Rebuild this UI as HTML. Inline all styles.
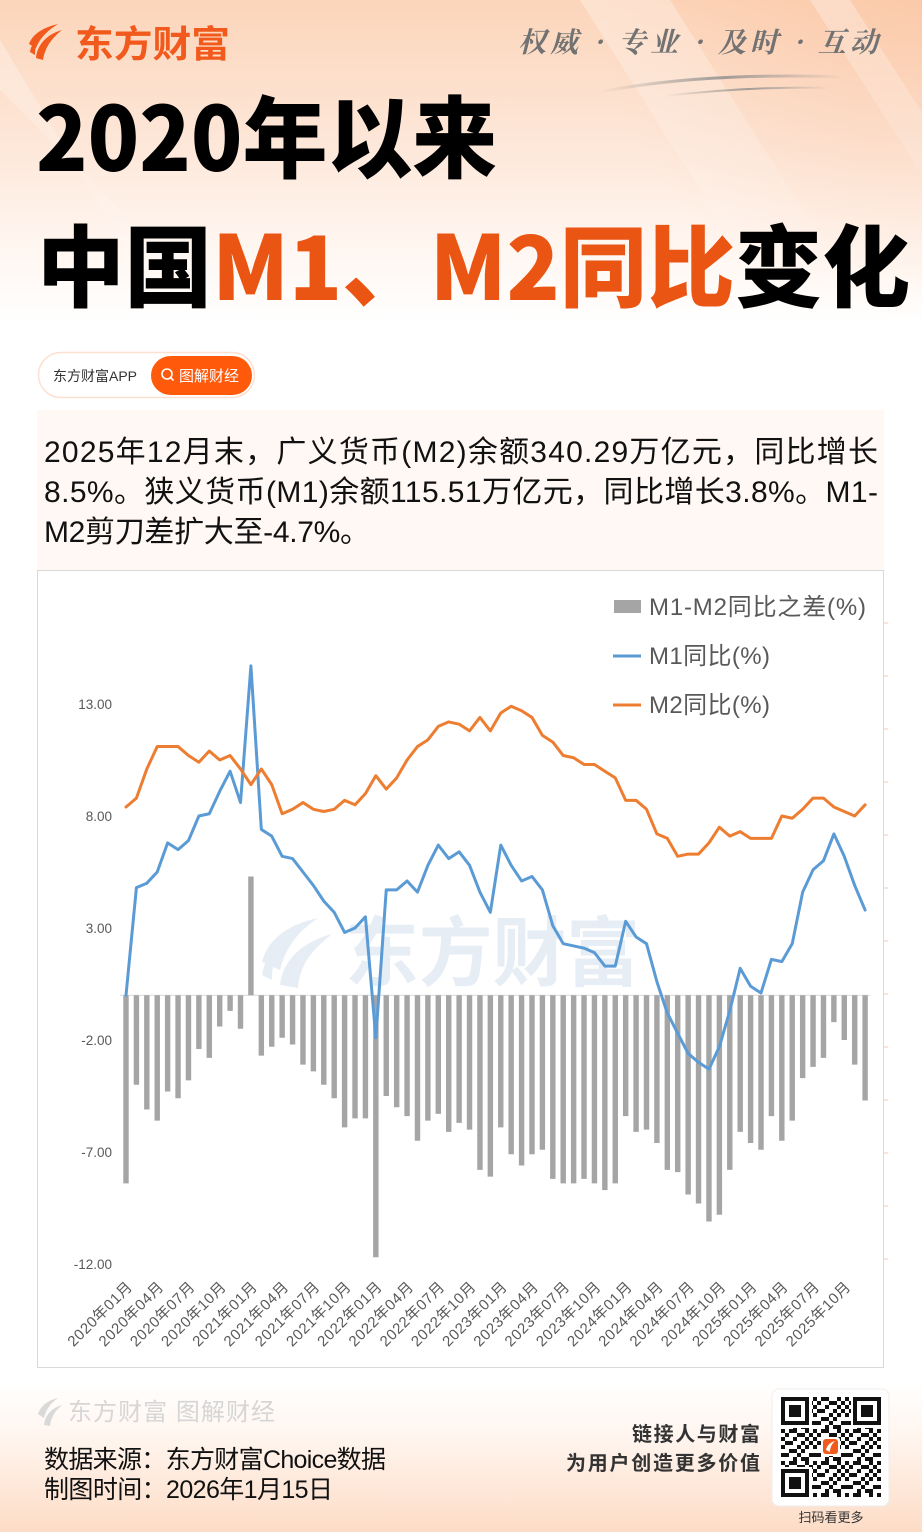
<!DOCTYPE html>
<html><head><meta charset="utf-8"><style>
html,body{margin:0;padding:0;background:#fff;}
svg{display:block;}
</style></head><body>
<svg xmlns="http://www.w3.org/2000/svg" width="922" height="1532" viewBox="0 0 922 1532">
<defs>
<linearGradient id="hdr" x1="0" y1="0" x2="0" y2="1">
<stop offset="0" stop-color="#fcd5ba"/>
<stop offset="0.4" stop-color="#fde6d7"/>
<stop offset="0.72" stop-color="#fff6f0"/>
<stop offset="0.95" stop-color="#ffffff"/>
<stop offset="1" stop-color="#ffffff"/>
</linearGradient>
<radialGradient id="hdr2" cx="922" cy="0" r="320" gradientUnits="userSpaceOnUse">
<stop offset="0" stop-color="#f9b48a" stop-opacity="0.35"/>
<stop offset="1" stop-color="#f9b48a" stop-opacity="0"/>
</radialGradient>
<linearGradient id="stripeFade" x1="0" y1="0" x2="0" y2="1">
<stop offset="0" stop-color="#ffffff" stop-opacity="0.3"/>
<stop offset="0.7" stop-color="#ffffff" stop-opacity="0.1"/>
<stop offset="1" stop-color="#ffffff" stop-opacity="0"/>
</linearGradient>
<linearGradient id="ftr" x1="0" y1="0" x2="0" y2="1">
<stop offset="0" stop-color="#ffffff"/>
<stop offset="0.35" stop-color="#fff6f0"/>
<stop offset="1" stop-color="#fddcc6"/>
</linearGradient>
<linearGradient id="sw" x1="0" y1="0" x2="1" y2="0">
<stop offset="0" stop-color="#8a8a8a" stop-opacity="0"/>
<stop offset="0.5" stop-color="#8a8a8a" stop-opacity="0.8"/>
<stop offset="1" stop-color="#8a8a8a" stop-opacity="0"/>
</linearGradient>
<pattern id="qr" x="781" y="1397" width="32" height="32" patternUnits="userSpaceOnUse">
<path fill="#111" d="M0 0h4v4h-4zM8 0h4v4h-4zM12 0h4v4h-4zM24 0h4v4h-4zM4 4h4v4h-4zM16 4h4v4h-4zM20 4h4v4h-4zM28 4h4v4h-4zM0 8h4v4h-4zM12 8h4v4h-4zM24 8h4v4h-4zM4 12h4v4h-4zM8 12h4v4h-4zM20 12h4v4h-4zM28 12h4v4h-4zM0 16h4v4h-4zM16 16h4v4h-4zM24 16h4v4h-4zM8 20h4v4h-4zM12 20h4v4h-4zM20 20h4v4h-4zM0 24h4v4h-4zM4 24h4v4h-4zM16 24h4v4h-4zM28 24h4v4h-4zM12 28h4v4h-4zM20 28h4v4h-4zM24 28h4v4h-4z"/>
</pattern>
</defs>

<!-- backgrounds -->
<rect x="0" y="0" width="922" height="1532" fill="#ffffff"/>
<rect x="0" y="0" width="922" height="340" fill="url(#hdr)"/>
<rect x="0" y="0" width="922" height="340" fill="url(#hdr2)"/>
<polygon points="580,0 670,0 860,300 770,300" fill="url(#stripeFade)"/>
<polygon points="980,0 1020,0 1180,250 1140,250" fill="url(#stripeFade)" transform="translate(-170,0)"/>
<polygon points="0,40 0,90 200,290 150,290" fill="url(#stripeFade)"/>
<rect x="0" y="1380" width="922" height="152" fill="url(#ftr)"/>

<!-- logo -->
<g fill="#f15a1c">
<path d="M29 44 C33 33 45 27 58 24 C47 31 40 38 36 48 Z"/>
<path d="M36 58 C37 45 47 34 62 30 C52 38 45 47 43 60 Z"/>
<path d="M30 52 C31 45 35 40 40 37 C37 42 35 47 35 55 Z"/>
</g>
<text x="75" y="57" font-family="'Liberation Sans','Noto Sans CJK SC',sans-serif" font-size="37" font-weight="bold" fill="#f15a1c" textLength="155" lengthAdjust="spacingAndGlyphs">东方财富</text>

<!-- slogan -->
<text x="518" y="52" font-family="'Noto Serif CJK SC','Liberation Serif',serif" font-size="28" font-weight="bold" fill="#727272" textLength="360" lengthAdjust="spacing" font-style="italic">权威 · 专业 · 及时 · 互动</text>
<path d="M600 92 Q700 72 845 77" stroke="url(#sw)" stroke-width="3" fill="none"/>
<path d="M665 96 Q750 86 830 88" stroke="url(#sw)" stroke-width="2" fill="none"/>

<!-- title -->
<text x="36" y="171" font-family="'Noto Sans CJK SC','Liberation Sans',sans-serif" font-size="89" font-weight="900" fill="#000" textLength="461" lengthAdjust="spacingAndGlyphs">2020年以来</text>
<text x="37" y="300" font-family="'Noto Sans CJK SC','Liberation Sans',sans-serif" font-size="89" font-weight="900" fill="#000" textLength="873" lengthAdjust="spacingAndGlyphs">中国<tspan fill="#ea5514">M1、M2同比</tspan>变化</text>

<!-- badge -->
<rect x="38.5" y="352.5" width="216" height="45" rx="22.5" fill="#ffffff" stroke="#fde0d2" stroke-width="1.5"/>
<text x="53" y="381" font-family="'Liberation Sans','Noto Sans CJK SC',sans-serif" font-size="14" fill="#333">东方财富APP</text>
<rect x="151" y="356" width="101" height="39" rx="19.5" fill="#ff5a0c"/>
<circle cx="167" cy="374" r="5" fill="none" stroke="#fff" stroke-width="1.6"/>
<line x1="170.5" y1="377.5" x2="173.5" y2="380.5" stroke="#fff" stroke-width="1.6"/>
<text x="179" y="381" font-family="'Liberation Sans','Noto Sans CJK SC',sans-serif" font-size="15" fill="#fff">图解财经</text>

<!-- summary box -->
<rect x="37" y="410" width="847" height="160" fill="#fff8f5"/>
<g font-family="'Liberation Sans','Noto Sans CJK SC',sans-serif" font-size="30" fill="#111">
<text x="44" y="462" textLength="834" lengthAdjust="spacing">2025年12月末，广义货币(M2)余额340.29万亿元，同比增长</text>
<text x="44" y="502" textLength="834" lengthAdjust="spacing">8.5%。狭义货币(M1)余额115.51万亿元，同比增长3.8%。M1-</text>
<text x="44" y="542" textLength="326" lengthAdjust="spacing">M2剪刀差扩大至-4.7%。</text>
</g>

<!-- chart frame -->
<rect x="37.5" y="570.5" width="846" height="797" fill="#ffffff" stroke="#d9d9d9" stroke-width="1"/>
<g stroke="#f5cdb3" stroke-width="1">
<line x1="884" y1="623" x2="888" y2="623"/><line x1="884" y1="676" x2="888" y2="676"/>
<line x1="884" y1="729" x2="888" y2="729"/><line x1="884" y1="782" x2="888" y2="782"/>
<line x1="884" y1="835" x2="888" y2="835"/><line x1="884" y1="888" x2="888" y2="888"/>
<line x1="884" y1="941" x2="888" y2="941"/><line x1="884" y1="994" x2="888" y2="994"/>
<line x1="884" y1="1047" x2="888" y2="1047"/><line x1="884" y1="1100" x2="888" y2="1100"/>
<line x1="884" y1="1153" x2="888" y2="1153"/><line x1="884" y1="1206" x2="888" y2="1206"/>
<line x1="884" y1="1259" x2="888" y2="1259"/>
</g>

<!-- chart watermark -->
<g fill="#e6edf5">
<path d="M262 962 C268 938 290 924 318 918 C298 932 286 946 280 970 Z"/>
<path d="M280 985 C283 960 302 942 332 934 C312 950 300 964 298 988 Z"/>
<path d="M262 975 C264 962 270 954 280 948 C274 958 272 966 272 980 Z"/>
</g>
<text x="345" y="980" font-family="'Liberation Sans','Noto Sans CJK SC',sans-serif" font-size="76" font-weight="bold" fill="#e6edf5" textLength="295" lengthAdjust="spacingAndGlyphs">东方财富</text>

<!-- y-axis labels -->
<g font-family="'Liberation Sans',sans-serif" font-size="13.5" fill="#595959" text-anchor="end">
<text x="112" y="709">13.00</text>
<text x="112" y="821">8.00</text>
<text x="112" y="933">3.00</text>
<text x="112" y="1045">-2.00</text>
<text x="112" y="1157">-7.00</text>
<text x="112" y="1269">-12.00</text>
</g>

<!-- zero line -->
<line x1="120" y1="995.2" x2="870" y2="995.2" stroke="#d9d9d9" stroke-width="1"/>

<!-- series -->
<g transform="translate(126,995.2) scale(10.41,-22.4)">
<path fill="#a5a5a5" d="M-0.26 0h.52v-8.4h-.52zM0.74 0h.52v-4.0h-.52zM1.74 0h.52v-5.1h-.52zM2.74 0h.52v-5.6h-.52zM3.74 0h.52v-4.3h-.52zM4.74 0h.52v-4.6h-.52zM5.74 0h.52v-3.8h-.52zM6.74 0h.52v-2.4h-.52zM7.74 0h.52v-2.8h-.52zM8.74 0h.52v-1.4h-.52zM9.74 0h.52v-0.7h-.52zM10.74 0h.52v-1.5h-.52zM11.74 0h.52v5.3h-.52zM12.74 0h.52v-2.7h-.52zM13.74 0h.52v-2.3h-.52zM14.74 0h.52v-1.9h-.52zM15.74 0h.52v-2.2h-.52zM16.74 0h.52v-3.1h-.52zM17.74 0h.52v-3.4h-.52zM18.74 0h.52v-4.0h-.52zM19.74 0h.52v-4.6h-.52zM20.74 0h.52v-5.9h-.52zM21.74 0h.52v-5.5h-.52zM22.74 0h.52v-5.5h-.52zM23.74 0h.52v-11.7h-.52zM24.74 0h.52v-4.5h-.52zM25.74 0h.52v-5.0h-.52zM26.74 0h.52v-5.4h-.52zM27.74 0h.52v-6.5h-.52zM28.74 0h.52v-5.6h-.52zM29.74 0h.52v-5.3h-.52zM30.74 0h.52v-6.1h-.52zM31.74 0h.52v-5.7h-.52zM32.74 0h.52v-6.0h-.52zM33.74 0h.52v-7.8h-.52zM34.74 0h.52v-8.1h-.52zM35.74 0h.52v-5.9h-.52zM36.74 0h.52v-7.1h-.52zM37.74 0h.52v-7.6h-.52zM38.74 0h.52v-7.1h-.52zM39.74 0h.52v-6.9h-.52zM40.74 0h.52v-8.2h-.52zM41.74 0h.52v-8.4h-.52zM42.74 0h.52v-8.4h-.52zM43.74 0h.52v-8.2h-.52zM44.74 0h.52v-8.4h-.52zM45.74 0h.52v-8.7h-.52zM46.74 0h.52v-8.4h-.52zM47.74 0h.52v-5.4h-.52zM48.74 0h.52v-6.1h-.52zM49.74 0h.52v-6.0h-.52zM50.74 0h.52v-6.6h-.52zM51.74 0h.52v-7.8h-.52zM52.74 0h.52v-7.9h-.52zM53.74 0h.52v-8.9h-.52zM54.74 0h.52v-9.3h-.52zM55.74 0h.52v-10.1h-.52zM56.74 0h.52v-9.8h-.52zM57.74 0h.52v-7.8h-.52zM58.74 0h.52v-6.1h-.52zM59.74 0h.52v-6.6h-.52zM60.74 0h.52v-6.9h-.52zM61.74 0h.52v-5.4h-.52zM62.74 0h.52v-6.5h-.52zM63.74 0h.52v-5.6h-.52zM64.74 0h.52v-3.7h-.52zM65.74 0h.52v-3.2h-.52zM66.74 0h.52v-2.8h-.52zM67.74 0h.52v-1.2h-.52zM68.74 0h.52v-2.0h-.52zM69.74 0h.52v-3.1h-.52zM70.74 0h.52v-4.7h-.52z"/>
<polyline fill="none" stroke="#5b9bd5" stroke-width="3" stroke-linejoin="round" stroke-linecap="round" vector-effect="non-scaling-stroke" points="0,0 1,4.8 2,5.0 3,5.5 4,6.8 5,6.5 6,6.9 7,8.0 8,8.1 9,9.1 10,10.0 11,8.6 12,14.7 13,7.4 14,7.1 15,6.2 16,6.1 17,5.5 18,4.9 19,4.2 20,3.7 21,2.8 22,3.0 23,3.5 24,-1.9 25,4.7 26,4.7 27,5.1 28,4.6 29,5.8 30,6.7 31,6.1 32,6.4 33,5.8 34,4.6 35,3.7 36,6.7 37,5.8 38,5.1 39,5.3 40,4.7 41,3.1 42,2.3 43,2.2 44,2.1 45,1.9 46,1.3 47,1.3 48,3.3 49,2.6 50,2.3 51,0.6 52,-0.8 53,-1.7 54,-2.6 55,-3.0 56,-3.3 57,-2.3 58,-0.7 59,1.2 60,0.4 61,0.1 62,1.6 63,1.5 64,2.3 65,4.6 66,5.6 67,6.0 68,7.2 69,6.2 70,4.9 71,3.8"/>
<polyline fill="none" stroke="#ed7d31" stroke-width="3" stroke-linejoin="round" stroke-linecap="round" vector-effect="non-scaling-stroke" points="0,8.4 1,8.8 2,10.1 3,11.1 4,11.1 5,11.1 6,10.7 7,10.4 8,10.9 9,10.5 10,10.7 11,10.1 12,9.4 13,10.1 14,9.4 15,8.1 16,8.3 17,8.6 18,8.3 19,8.2 20,8.3 21,8.7 22,8.5 23,9.0 24,9.8 25,9.2 26,9.7 27,10.5 28,11.1 29,11.4 30,12.0 31,12.2 32,12.1 33,11.8 34,12.4 35,11.8 36,12.6 37,12.9 38,12.7 39,12.4 40,11.6 41,11.3 42,10.7 43,10.6 44,10.3 45,10.3 46,10.0 47,9.7 48,8.7 49,8.7 50,8.3 51,7.2 52,7.0 53,6.2 54,6.3 55,6.3 56,6.8 57,7.5 58,7.1 59,7.3 60,7.0 61,7.0 62,7.0 63,8.0 64,7.9 65,8.3 66,8.8 67,8.8 68,8.4 69,8.2 70,8.0 71,8.5"/>
</g>

<!-- legend -->
<rect x="614" y="600" width="27" height="13" fill="#a5a5a5"/>
<line x1="613" y1="656" x2="641" y2="656" stroke="#5b9bd5" stroke-width="3"/>
<line x1="613" y1="705" x2="641" y2="705" stroke="#ed7d31" stroke-width="3"/>
<g font-family="'Liberation Sans','Noto Sans CJK SC',sans-serif" font-size="24" fill="#595959">
<text x="649" y="615" textLength="217" lengthAdjust="spacing">M1-M2同比之差(%)</text>
<text x="649" y="664" textLength="121" lengthAdjust="spacing">M1同比(%)</text>
<text x="649" y="713" textLength="121" lengthAdjust="spacing">M2同比(%)</text>
</g>

<!-- x-axis labels -->
<g font-family="'Liberation Sans','Noto Sans CJK SC',sans-serif" font-size="15" fill="#595959" text-anchor="end">
<text transform="translate(133,1288) rotate(-45)" textLength="84" lengthAdjust="spacing">2020年01月</text>
<text transform="translate(164.2,1288) rotate(-45)" textLength="84" lengthAdjust="spacing">2020年04月</text>
<text transform="translate(195.5,1288) rotate(-45)" textLength="84" lengthAdjust="spacing">2020年07月</text>
<text transform="translate(226.7,1288) rotate(-45)" textLength="84" lengthAdjust="spacing">2020年10月</text>
<text transform="translate(257.9,1288) rotate(-45)" textLength="84" lengthAdjust="spacing">2021年01月</text>
<text transform="translate(289.2,1288) rotate(-45)" textLength="84" lengthAdjust="spacing">2021年04月</text>
<text transform="translate(320.4,1288) rotate(-45)" textLength="84" lengthAdjust="spacing">2021年07月</text>
<text transform="translate(351.6,1288) rotate(-45)" textLength="84" lengthAdjust="spacing">2021年10月</text>
<text transform="translate(382.8,1288) rotate(-45)" textLength="84" lengthAdjust="spacing">2022年01月</text>
<text transform="translate(414.1,1288) rotate(-45)" textLength="84" lengthAdjust="spacing">2022年04月</text>
<text transform="translate(445.3,1288) rotate(-45)" textLength="84" lengthAdjust="spacing">2022年07月</text>
<text transform="translate(476.5,1288) rotate(-45)" textLength="84" lengthAdjust="spacing">2022年10月</text>
<text transform="translate(507.8,1288) rotate(-45)" textLength="84" lengthAdjust="spacing">2023年01月</text>
<text transform="translate(539,1288) rotate(-45)" textLength="84" lengthAdjust="spacing">2023年04月</text>
<text transform="translate(570.2,1288) rotate(-45)" textLength="84" lengthAdjust="spacing">2023年07月</text>
<text transform="translate(601.5,1288) rotate(-45)" textLength="84" lengthAdjust="spacing">2023年10月</text>
<text transform="translate(632.7,1288) rotate(-45)" textLength="84" lengthAdjust="spacing">2024年01月</text>
<text transform="translate(663.9,1288) rotate(-45)" textLength="84" lengthAdjust="spacing">2024年04月</text>
<text transform="translate(695.1,1288) rotate(-45)" textLength="84" lengthAdjust="spacing">2024年07月</text>
<text transform="translate(726.4,1288) rotate(-45)" textLength="84" lengthAdjust="spacing">2024年10月</text>
<text transform="translate(757.6,1288) rotate(-45)" textLength="84" lengthAdjust="spacing">2025年01月</text>
<text transform="translate(788.8,1288) rotate(-45)" textLength="84" lengthAdjust="spacing">2025年04月</text>
<text transform="translate(820.1,1288) rotate(-45)" textLength="84" lengthAdjust="spacing">2025年07月</text>
<text transform="translate(851.3,1288) rotate(-45)" textLength="84" lengthAdjust="spacing">2025年10月</text>
</g>

<!-- footer -->
<g fill="#d9d9d9">
<path d="M38 1414 C41 1405 49 1400 58 1398 C51 1403 46 1409 44 1418 Z"/>
<path d="M44 1425 C45 1415 52 1408 62 1405 C55 1411 51 1417 50 1426 Z"/>
</g>
<text x="68" y="1420" font-family="'Liberation Sans','Noto Sans CJK SC',sans-serif" font-size="24" fill="#d6d6d6" textLength="207" lengthAdjust="spacing">东方财富 图解财经</text>
<g font-family="'Liberation Sans','Noto Sans CJK SC',sans-serif" font-size="25" fill="#111">
<text x="44" y="1468" textLength="342" lengthAdjust="spacing">数据来源：东方财富Choice数据</text>
<text x="44" y="1498" textLength="289" lengthAdjust="spacing">制图时间：2026年1月15日</text>
</g>
<g font-family="'Liberation Sans','Noto Sans CJK SC',sans-serif" font-size="20" font-weight="bold" fill="#333" text-anchor="end">
<text x="760" y="1441" textLength="128" lengthAdjust="spacing">链接人与财富</text>
<text x="760" y="1470" textLength="194" lengthAdjust="spacing">为用户创造更多价值</text>
</g>

<!-- QR -->
<rect x="772" y="1389" width="117" height="117" rx="7" fill="#ffffff" stroke="#eeeeee" stroke-width="1"/>
<rect x="781" y="1397" width="100" height="100" fill="url(#qr)"/>
<g>
<rect x="779" y="1395" width="33" height="33" fill="#fff"/>
<rect x="851" y="1395" width="33" height="33" fill="#fff"/>
<rect x="779" y="1467" width="33" height="33" fill="#fff"/>
<g fill="#111">
<rect x="781" y="1397" width="28" height="28"/>
<rect x="853" y="1397" width="28" height="28"/>
<rect x="781" y="1469" width="28" height="28"/>
</g>
<g fill="#fff">
<rect x="785" y="1401" width="20" height="20"/>
<rect x="857" y="1401" width="20" height="20"/>
<rect x="785" y="1473" width="20" height="20"/>
</g>
<g fill="#111">
<rect x="789" y="1405" width="12" height="12"/>
<rect x="861" y="1405" width="12" height="12"/>
<rect x="789" y="1477" width="12" height="12"/>
</g>
<rect x="821" y="1437" width="19" height="19" rx="3" fill="#fff"/>
<rect x="823" y="1439" width="15" height="15" rx="3" fill="#f05a1c"/>
<path d="M826 1450 C827 1445 831 1442 835 1441 C832 1444 830 1447 830 1452 Z" fill="#fff"/>
</g>
<text x="831" y="1522" font-family="'Liberation Sans','Noto Sans CJK SC',sans-serif" font-size="13" fill="#333" text-anchor="middle">扫码看更多</text>
</svg>
</body></html>
